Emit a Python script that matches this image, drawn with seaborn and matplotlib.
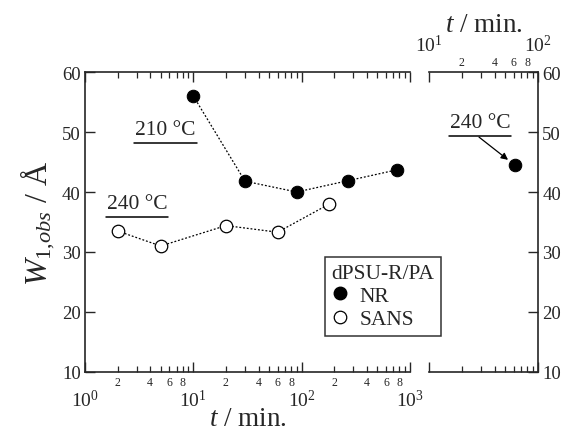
import numpy as np
import pandas as pd
import matplotlib
matplotlib.use("Agg")
import matplotlib.pyplot as plt
import seaborn as sns
from matplotlib.ticker import LogLocator, FuncFormatter, NullLocator
from matplotlib.lines import Line2D

# ---- data ----
nr_t = [10, 30, 90, 270, 760]
nr_w = [56.0, 41.8, 40.0, 41.9, 43.7]
sans_t = [2, 5, 20, 60, 180]
sans_w = [33.5, 31.0, 34.4, 33.3, 38.0]
nr240_t = [61]
nr240_w = [44.5]
y_ticks = [10, 20, 30, 40, 50, 60]

sns.set_style("ticks")
plt.rcParams["font.family"] = ["Liberation Serif", "DejaVu Serif"]
plt.rcParams["mathtext.fontset"] = "custom"
plt.rcParams["mathtext.rm"] = "Liberation Serif"
plt.rcParams["mathtext.it"] = "Liberation Serif:italic"
plt.rcParams["mathtext.bf"] = "Liberation Serif:bold"
plt.rcParams["axes.linewidth"] = 1.2

fig = plt.figure(figsize=(5.64, 4.31), dpi=100)
ax = fig.add_axes([0.1507, 0.1346, 0.5762, 0.696])
ax2 = fig.add_axes([0.7606, 0.1346, 0.1933, 0.696])

dot = (0, (1.5, 1.5))
sns.lineplot(x=nr_t, y=nr_w, ax=ax, color="black", linestyle=dot, linewidth=0.9,
             marker="o", markersize=9, markerfacecolor="black", markeredgecolor="black")
sns.lineplot(x=sans_t, y=sans_w, ax=ax, color="black", linestyle=dot, linewidth=0.9,
             marker="o", markersize=9, markerfacecolor="white", markeredgecolor="black",
             markeredgewidth=0.9)
sns.lineplot(x=nr240_t, y=nr240_w, ax=ax2, color="black", linestyle="none",
             marker="o", markersize=9, markerfacecolor="black", markeredgecolor="black")


def minor_fmt(v, pos):
    e = np.floor(np.log10(v) + 1e-9)
    m = int(round(v / 10 ** e))
    return str(m) if m in (2, 4, 6, 8) else ""


def major_fmt(v, pos):
    return r"$10^{%d}$" % int(round(np.log10(v)))


for a, lim in ((ax, (1, 1000)), (ax2, (10, 100))):
    a.set_xscale("log")
    a.set_xlim(*lim)
    a.set_ylim(10, 60)
    a.set_yticks(y_ticks)
    a.yaxis.set_minor_locator(NullLocator())
    a.xaxis.set_major_locator(LogLocator(base=10))
    a.xaxis.set_minor_locator(LogLocator(base=10, subs=np.arange(2, 10)))
    a.xaxis.set_major_formatter(FuncFormatter(major_fmt))
    a.xaxis.set_minor_formatter(FuncFormatter(minor_fmt))
    a.tick_params(axis="x", which="major", direction="in", length=7, width=1.0,
                  labelsize=14, pad=12, top=True, bottom=True)
    a.tick_params(axis="x", which="minor", direction="in", length=4, width=0.9,
                  labelsize=8.5, pad=3, top=True, bottom=True)
    a.tick_params(axis="y", which="major", direction="in", length=7, width=1.0,
                  labelsize=13.5, pad=3)
    a.set_xlabel("")
    a.set_ylabel("")

# main axes
ax.spines["right"].set_visible(False)
ax.spines["top"].set_visible(True)
ax.tick_params(axis="y", left=True, right=False, labelleft=True, labelright=False)
ax.tick_params(axis="x", which="both", labelbottom=True, labeltop=False)
ax.set_xlabel(r"$\mathit{t}$ / min.", fontsize=19.5, labelpad=-3)
ax.set_ylabel(r"$\mathit{W}_{\mathit{1{,}obs}}$ / Å", fontsize=23, labelpad=4)

# right axes
ax2.spines["left"].set_visible(False)
ax2.spines["top"].set_visible(True)
ax2.spines["right"].set_visible(True)
ax2.tick_params(axis="y", left=False, right=True, labelleft=False, labelright=True)
ax2.tick_params(axis="x", which="both", labelbottom=False, labeltop=True)
ax2.xaxis.set_label_position("top")
ax2.set_xlabel(r"$\mathit{t}$ / min.", fontsize=19.5, labelpad=2)

# annotations
ax.text(0.246, 0.81, "210 °C", transform=ax.transAxes, ha="center", va="center", fontsize=15.5)
ax.plot([0.151, 0.345], [0.763, 0.763], transform=ax.transAxes, color="black", lw=1.1)
ax.text(0.16, 0.563, "240 °C", transform=ax.transAxes, ha="center", va="center", fontsize=15.5)
ax.plot([0.065, 0.255], [0.517, 0.517], transform=ax.transAxes, color="black", lw=1.1)

ax2.text(0.468, 0.833, "240 °C", transform=ax2.transAxes, ha="center", va="center", fontsize=15.5)
ax2.plot([0.183, 0.752], [0.787, 0.787], transform=ax2.transAxes, color="black", lw=1.1)
ax2.annotate("", xy=(nr240_t[0], nr240_w[0]), xycoords="data",
             xytext=(0.459, 0.783), textcoords="axes fraction",
             arrowprops=dict(arrowstyle="-|>", color="black", lw=0.9,
                             shrinkA=0, shrinkB=6, mutation_scale=10))

# legend
handles = [Line2D([], [], marker="o", linestyle="none", markersize=9,
                  markerfacecolor="black", markeredgecolor="black"),
           Line2D([], [], marker="o", linestyle="none", markersize=9,
                  markerfacecolor="white", markeredgecolor="black", markeredgewidth=0.9)]
leg = fig.legend(handles, ["NR", "SANS"], title="dPSU-R/PA", loc="upper left",
                 bbox_to_anchor=(0.576, 0.401), frameon=True, fancybox=False,
                 edgecolor="black", fontsize=15.5, title_fontsize=15.5,
                 handlelength=0.8, handletextpad=0.5, borderpad=0.3,
                 labelspacing=0.15, borderaxespad=0)
leg.get_frame().set_linewidth(1.1)
leg._legend_box.align = "left"

fig.savefig("out.png", dpi=100)
